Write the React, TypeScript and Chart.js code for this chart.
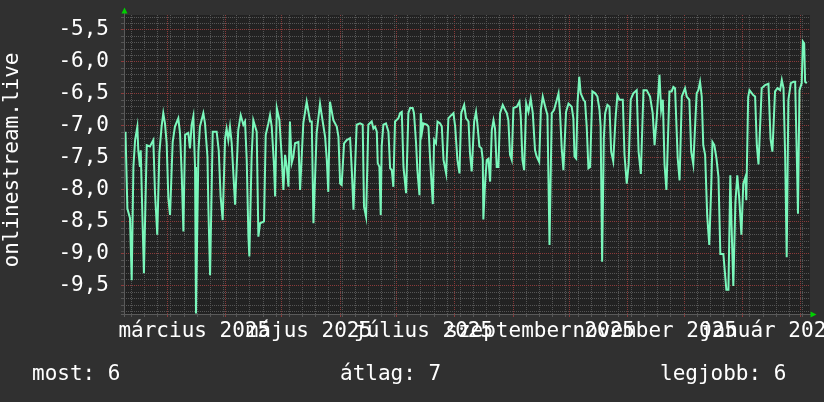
import React, { useEffect, useRef } from 'react';
import { Chart, registerables } from 'chart.js';

Chart.register(...registerables);

// ---- data (x = days since 2025-02-06, y = value) ----
const dayOffsets: number[] = [
  0.8, 1.8, 3.2, 4.1, 5.0, 5.9, 7.1, 7.6, 8.5, 8.9, 9.8, 10.6, 12.1, 13.8, 15.6, 16.5, 17.7, 18.8, 20.0, 20.9,
  21.8, 22.7, 23.6, 24.5, 25.9, 27.1, 28.9, 29.8, 30.7, 31.6, 32.5, 34.2, 35.1, 36.0, 36.9, 37.8, 38.3, 39.6, 40.4, 42.2,
  43.1, 44.4, 44.9, 45.8, 47.2, 49.3, 50.4, 51.4, 52.5, 53.8, 54.6, 55.5, 56.4, 57.3, 59.1, 60.8, 62.1, 63.5, 64.4, 65.3,
  66.2, 66.7, 67.9, 68.8, 70.6, 71.5, 72.4, 74.5, 75.4, 76.8, 77.7, 78.6, 79.8, 80.4, 81.3, 82.7, 83.9, 84.8, 85.7, 86.6,
  87.5, 88.3, 89.2, 90.1, 91.0, 92.8, 93.7, 95.4, 97.2, 99.0, 99.9, 100.8, 102.5, 104.3, 105.2, 107.0, 107.9, 108.7, 109.6, 111.4,
  113.2, 114.1, 115.0, 115.8, 117.1, 118.5, 120.3, 121.2, 122.1, 123.8, 125.6, 127.0, 127.7, 128.8, 130.0, 131.8, 132.7, 133.6, 134.5, 135.0,
  135.9, 136.6, 137.1, 138.0, 139.4, 140.7, 141.6, 142.5, 143.3, 144.2, 146.0, 146.9, 147.8, 148.7, 150.1, 151.3, 152.2, 153.6, 154.3, 155.4,
  156.1, 157.2, 157.9, 158.6, 159.3, 161.1, 162.0, 162.9, 164.3, 165.0, 166.0, 166.8, 168.2, 169.1, 170.0, 171.4, 172.6, 173.5, 175.3, 176.2,
  177.4, 178.5, 179.4, 181.0, 182.0, 183.3, 184.1, 185.0, 186.3, 187.3, 188.0, 189.1, 190.2, 190.9, 191.2, 192.1, 193.0, 193.9, 194.8, 195.7,
  196.6, 197.4, 198.3, 199.2, 200.1, 201.5, 202.8, 203.7, 204.5, 205.4, 206.3, 207.2, 209.0, 210.4, 211.1, 212.0, 212.9, 214.0, 215.2, 216.4,
  217.5, 218.7, 219.6, 220.9, 221.8, 222.8, 224.1, 225.3, 226.4, 227.6, 228.8, 230.3, 231.2, 232.0, 232.9, 233.8, 235.2, 236.5, 238.2, 239.1,
  239.7, 240.6, 241.3, 242.2, 243.0, 244.5, 245.3, 246.2, 247.1, 248.0, 249.2, 250.7, 251.9, 253.0, 253.6, 254.4, 255.3, 256.0, 257.2, 258.3,
  259.2, 260.3, 261.5, 262.5, 263.6, 265.4, 266.3, 267.5, 268.5, 269.6, 271.0, 272.8, 273.8, 275.0, 276.4, 278.1, 279.9, 281.3, 282.3, 283.5,
  284.9, 285.8, 286.7, 287.6, 288.6, 290.2, 291.4, 292.3, 293.2, 294.6, 295.6, 296.8, 298.5, 299.4, 300.8, 301.8, 302.9, 304.7, 305.6, 306.5,
  307.4, 308.2, 309.2, 310.3, 311.4, 312.5, 313.1, 314.1, 315.2, 316.3, 317.3, 318.9, 320.5, 321.6, 322.6, 323.2, 324.2, 325.3, 326.3, 327.4,
  328.5, 329.5, 330.6, 331.1, 332.1, 332.8, 334.9, 335.8, 336.7, 337.6, 339.3, 341.1, 342.9, 344.0, 345.0, 346.4, 347.7, 349.1, 350.0, 350.9,
  351.8, 352.6, 353.5, 354.8, 356.2, 357.1, 358.0, 358.6, 359.4, 360.6, 361.2, 361.9, 362.4, 363.3,
];

const values: number[] = [
  -7.09, -8.29, -8.44, -9.41, -7.64, -7.22, -7.01, -7.38, -7.64, -7.38, -8.42, -9.30, -7.30, -7.32, -7.22, -8.05, -8.70, -7.43, -7.01, -6.80,
  -6.96, -7.27, -8.13, -8.39, -7.25, -7.01, -6.88, -7.11, -7.74, -8.65, -7.14, -7.11, -7.35, -6.98, -6.85, -7.64, -9.93, -7.40, -7.01, -6.80,
  -6.96, -7.48, -8.29, -9.33, -7.09, -7.09, -7.38, -8.10, -8.47, -7.19, -7.04, -7.22, -7.01, -7.27, -8.23, -7.06, -6.83, -6.98, -6.93, -7.53,
  -8.73, -9.04, -7.48, -6.91, -7.09, -8.73, -8.52, -8.49, -7.14, -6.96, -6.83, -7.01, -7.61, -8.10, -6.72, -6.91, -7.48, -8.00, -7.45, -7.64,
  -7.95, -6.93, -7.58, -7.48, -7.27, -7.25, -8.00, -6.96, -6.62, -6.93, -6.93, -8.52, -7.11, -6.65, -6.83, -7.17, -7.53, -8.03, -6.62, -6.91,
  -7.01, -7.17, -7.90, -7.92, -7.27, -7.22, -7.19, -7.69, -8.31, -6.98, -6.96, -6.98, -8.26, -8.42, -6.98, -6.93, -7.04, -7.01, -7.09, -7.58,
  -7.64, -8.39, -7.32, -6.98, -6.96, -7.09, -7.66, -7.69, -7.95, -6.93, -6.88, -6.80, -6.78, -7.64, -8.05, -6.80, -6.72, -6.72, -6.80, -7.27,
  -7.69, -8.08, -6.80, -7.09, -6.96, -6.98, -7.01, -7.53, -8.22, -7.22, -7.27, -6.93, -6.96, -7.01, -7.53, -7.74, -6.88, -6.85, -6.80, -7.01,
  -7.53, -7.74, -6.80, -6.67, -6.88, -6.93, -7.43, -7.71, -6.93, -6.78, -6.96, -7.32, -7.35, -7.53, -8.46, -7.90, -7.53, -7.51, -7.87, -7.06,
  -6.91, -7.04, -7.64, -7.64, -6.80, -6.67, -6.75, -6.80, -6.91, -7.45, -7.53, -6.72, -6.70, -6.62, -6.85, -7.53, -7.69, -6.65, -6.78, -6.57,
  -6.80, -7.38, -7.48, -7.56, -6.75, -6.54, -6.70, -6.83, -8.86, -6.80, -6.75, -6.59, -6.49, -6.80, -7.35, -7.69, -6.78, -6.65, -6.70, -6.88,
  -7.48, -7.51, -6.65, -6.23, -6.49, -6.59, -6.62, -7.01, -7.66, -7.64, -6.46, -6.49, -6.54, -6.75, -7.01, -9.12, -7.20, -6.80, -6.67, -6.70,
  -7.40, -7.55, -6.90, -6.52, -6.59, -6.59, -7.45, -7.90, -7.60, -6.59, -6.49, -6.44, -7.40, -7.75, -6.44, -6.44, -6.54, -6.80, -7.30, -6.85,
  -6.20, -6.75, -6.59, -7.60, -8.00, -6.46, -6.46, -6.39, -6.41, -7.50, -7.85, -6.54, -6.41, -6.54, -6.59, -7.40, -7.60, -6.49, -6.44, -6.31,
  -6.54, -7.30, -7.45, -8.40, -8.86, -7.90, -7.25, -7.30, -7.50, -7.80, -9.00, -9.00, -9.56, -9.56, -7.77, -8.50, -9.50, -8.20, -7.77, -8.15,
  -8.70, -7.90, -7.80, -8.16, -6.55, -6.44, -6.52, -6.54, -7.30, -7.60, -6.41, -6.36, -6.34, -7.20, -7.40, -6.46, -6.41, -6.44, -6.28, -6.41,
  -7.50, -9.05, -6.59, -6.33, -6.31, -6.31, -7.50, -8.37, -6.44, -6.33, -5.68, -5.71, -6.31, -6.33,
];

// ---- axis / text definitions ----
const X_MIN = 0;
const X_MAX = 365;
const Y_MIN = -9.9375;
const Y_MAX = -5.266;
const monthStartDays = [23, 54, 84, 115, 145, 176, 207, 237, 268, 298, 329, 360];
const firstMondayDay = 4;
const labelMonthDays = [23, 84, 145, 207, 268, 329];
const labelShiftDays = 14.4;
const xTickLabels = ['március 2025', 'május 2025', 'július 2025', 'szeptember 2025', 'november 2025', 'január 2026'];
const yAxisTitle = 'onlinestream.live';
const legendTexts = ['most: 6', 'átlag: 7', 'legjobb: 6'];
const legendX = [32, 340, 660];

const FONT = '"DejaVu Sans Mono", monospace';
const BG = '#303030';
const PLOT_BG = '#222222';
const LINE = '#7af7bb';
const MINOR = '#555555';
const MAJOR = '#8a3a3a';
const AXIS = '#5a5a5a';
const ARROW = '#00d000';

const isMonth = (v: number) => monthStartDays.some((m) => Math.abs(m - v) < 1e-6);
const isMajorY = (v: number) => Math.abs(v * 2 - Math.round(v * 2)) < 1e-6;

export default function App() {
  const ref = useRef<HTMLCanvasElement>(null);

  useEffect(() => {
    document.body.style.margin = '0';
    const canvas = ref.current!;
    const points = dayOffsets.map((d, i) => ({ x: d, y: values[i] }));

    const gridDays: number[] = [];
    for (let d = firstMondayDay; d <= X_MAX; d += 7) gridDays.push(d);
    monthStartDays.forEach((m) => { if (!gridDays.includes(m)) gridDays.push(m); });
    gridDays.sort((a, b) => a - b);

    const yTicks: number[] = [];
    for (let i = -99; i <= -53; i++) yTicks.push(i / 10);

    const rrdPlugin = {
      id: 'rrdLook',
      beforeDraw(chart: any) {
        const { ctx, chartArea: a } = chart;
        ctx.save();
        ctx.fillStyle = BG;
        ctx.fillRect(0, 0, chart.width, chart.height);
        ctx.fillStyle = PLOT_BG;
        ctx.fillRect(a.left, a.top, a.right - a.left, a.bottom - a.top);
        ctx.restore();
      },
      afterDraw(chart: any) {
        const { ctx, chartArea: a } = chart;
        ctx.save();
        ctx.strokeStyle = AXIS;
        ctx.lineWidth = 1;
        ctx.beginPath();
        ctx.moveTo(a.left + 0.5, a.bottom + 3);
        ctx.lineTo(a.left + 0.5, a.top - 3);
        ctx.moveTo(a.left - 3, a.bottom + 0.5);
        ctx.lineTo(a.right + 2, a.bottom + 0.5);
        ctx.stroke();

        ctx.fillStyle = ARROW;
        ctx.beginPath();
        ctx.moveTo(a.left + 0.5, a.top - 7.5);
        ctx.lineTo(a.left - 2.5, a.top - 1.5);
        ctx.lineTo(a.left + 3.5, a.top - 1.5);
        ctx.closePath();
        ctx.fill();
        ctx.beginPath();
        ctx.moveTo(a.right + 6.5, a.bottom + 0.5);
        ctx.lineTo(a.right + 0.5, a.bottom - 2.5);
        ctx.lineTo(a.right + 0.5, a.bottom + 3.5);
        ctx.closePath();
        ctx.fill();

        ctx.fillStyle = '#ffffff';
        ctx.font = `21px ${FONT}`;
        ctx.textBaseline = 'alphabetic';
        ctx.textAlign = 'left';
        legendTexts.forEach((t, i) => ctx.fillText(t, legendX[i], 380));

        ctx.translate(18, 160);
        ctx.rotate(-Math.PI / 2);
        ctx.textAlign = 'center';
        ctx.fillText(yAxisTitle, 0, 0);
        ctx.restore();
      },
    };

    const chart = new Chart(canvas, {
      type: 'line',
      data: {
        datasets: [
          {
            data: points,
            borderColor: LINE,
            borderWidth: 2,
            pointRadius: 0,
            tension: 0,
            fill: false,
            xAxisID: 'x',
            yAxisID: 'y',
          },
        ],
      },
      options: {
        responsive: false,
        animation: false,
        devicePixelRatio: 1,
        layout: { padding: { left: 0, top: 15, right: 14, bottom: 58 } },
        plugins: { legend: { display: false }, tooltip: { enabled: false }, title: { display: false } },
        scales: {
          x: {
            type: 'linear',
            position: 'bottom',
            min: X_MIN,
            max: X_MAX,
            afterBuildTicks: (s: any) => { s.ticks = gridDays.map((v) => ({ value: v })); },
            ticks: { display: false, autoSkip: false },
            grid: {
              color: (c: any) => (isMonth(c.tick?.value) ? MAJOR : MINOR),
              lineWidth: 1,
              drawTicks: true,
              tickLength: 3,
            },
            border: { display: false, dash: [1, 1] },
            afterFit: (s: any) => { s.height = 0; s.paddingLeft = 0; s.paddingRight = 0; },
          },
          xl: {
            type: 'linear',
            position: 'bottom',
            min: X_MIN,
            max: X_MAX,
            afterBuildTicks: (s: any) => { s.ticks = labelMonthDays.map((v) => ({ value: v + labelShiftDays })); },
            ticks: {
              autoSkip: false,
              maxRotation: 0,
              minRotation: 0,
              color: '#ffffff',
              font: { family: FONT, size: 21 },
              padding: 5,
              callback: (_v: any, i: number) => xTickLabels[i],
            },
            grid: { display: false, drawTicks: false },
            border: { display: false },
            afterFit: (s: any) => { s.height = 30; s.paddingLeft = 0; s.paddingRight = 0; },
          },
          y: {
            type: 'linear',
            position: 'left',
            min: Y_MIN,
            max: Y_MAX,
            afterBuildTicks: (s: any) => { s.ticks = yTicks.map((v) => ({ value: v })); },
            ticks: {
              autoSkip: false,
              color: '#ffffff',
              font: { family: FONT, size: 21 },
              padding: 12,
              callback: (v: any) => (isMajorY(Number(v)) ? Number(v).toFixed(1).replace('.', ',') : ''),
            },
            grid: {
              color: (c: any) => (isMajorY(c.tick?.value ?? 0) ? MAJOR : MINOR),
              lineWidth: 1,
              drawTicks: true,
              tickLength: 3,
            },
            border: { display: false, dash: [1, 1] },
            afterFit: (s: any) => { s.width = 124; s.paddingTop = 0; s.paddingBottom = 0; },
          },
        },
      },
      plugins: [rrdPlugin],
    } as any);

    return () => chart.destroy();
  }, []);

  return (
    <div style={{ width: 824, height: 402 }}>
      <canvas ref={ref} width={824} height={402} style={{ display: 'block' }} />
    </div>
  );
}
